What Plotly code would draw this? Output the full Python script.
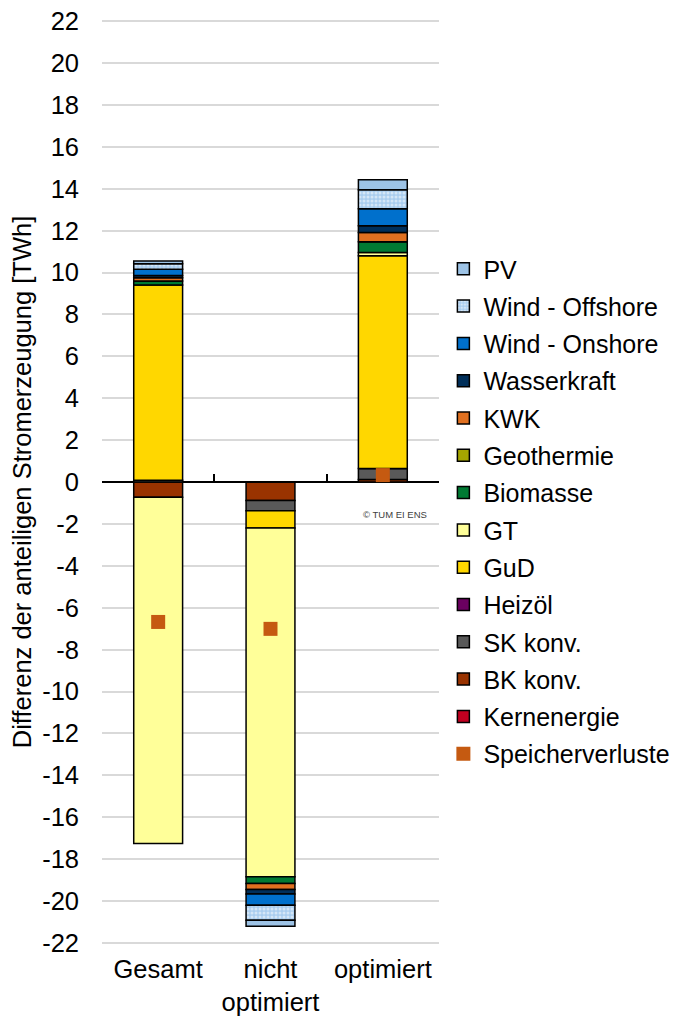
import plotly.graph_objects as go

categories = ["Gesamt", "nicht<br>optimiert", "optimiert"]

# stacked from zero outward (Excel stacking order)
kernenergie = [0.0, 0.0, 0.0]
bk_konv = [-0.73, -0.88, 0.12]
sk_konv = [0.08, -0.49, 0.52]
heizoel = [0.0, 0.0, 0.0]
gud = [9.32, -0.83, 10.16]
gt = [-16.52, -16.64, 0.16]
biomasse = [0.19, -0.32, 0.51]
geothermie = [0.0, 0.0, 0.0]
kwk = [0.16, -0.29, 0.44]
wasserkraft = [0.11, -0.21, 0.32]
wind_onshore = [0.29, -0.54, 0.81]
wind_offshore = [0.27, -0.72, 0.91]
pv = [0.13, -0.29, 0.48]
speicherverluste = [-6.68, -7.01, 0.33]

y_ticks = list(range(-22, 23, 2))
y_tick_labels = [str(v) for v in y_ticks]  # plain hyphen minus as in the original

series = [
    ("Kernenergie", kernenergie, "#C00020", None, 13),
    ("BK konv.", bk_konv, "#993300", None, 12),
    ("SK konv.", sk_konv, "#595959", None, 11),
    ("Heizöl", heizoel, "#6B0060", None, 10),
    ("GuD", gud, "#FFD700", None, 9),
    ("GT", gt, "#FFFF99", None, 8),
    ("Biomasse", biomasse, "#007A33", None, 7),
    ("Geothermie", geothermie, "#A6A600", None, 6),
    ("KWK", kwk, "#E07020", None, 5),
    ("Wasserkraft", wasserkraft, "#002F5A", None, 4),
    ("Wind - Onshore", wind_onshore, "#0070CC", None, 3),
    ("Wind - Offshore", wind_offshore, "#A9CDEF", ".", 2),
    ("PV", pv, "#9DC3E6", None, 1),
]

FONT = "Liberation Sans, Arial, sans-serif"
FS = 25.5
LFS = 25
fig = go.Figure()
for name, vals, color, pat, rank in series:
    marker = dict(color=color, line=dict(color="#000000", width=1.5))
    if pat:
        marker["pattern"] = dict(shape=pat, fillmode="overlay", fgcolor="#FFFFFF",
                                 size=4, solidity=0.45)
    fig.add_trace(go.Bar(x=categories, y=vals, name=name, marker=marker,
                         legendrank=rank, legendgroup=name))

fig.add_trace(go.Scatter(x=categories, y=speicherverluste, name="Speicherverluste",
                         mode="markers",
                         marker=dict(symbol="square", size=14, color="#C55A11"),
                         legendrank=14, legendgroup="Speicherverluste"))

# invisible trace to enable overlay axis for category-boundary ticks
fig.add_trace(go.Scatter(x=[0], y=[0], xaxis="x2", mode="markers",
                         marker=dict(opacity=0), showlegend=False, hoverinfo="skip"))

# page body adds an 8px offset, so the figure is 8px smaller and margins shifted
fig.update_layout(
    width=672, height=1008,
    margin=dict(l=94, r=240.5, t=10.6, b=70.6, autoexpand=False),
    barmode="relative", bargap=0.565,
    plot_bgcolor="white", paper_bgcolor="white",
    font=dict(family=FONT, size=FS, color="#000000"),
    showlegend=True,
    legend=dict(x=1.013, y=0.7548, xanchor="left", yanchor="top",
                traceorder="grouped", tracegroupgap=1.8,
                font=dict(family=FONT, size=LFS, color="#000000"),
                bgcolor="rgba(0,0,0,0)"),
    yaxis=dict(range=[-22.1, 22.1], tickvals=y_ticks, ticktext=y_tick_labels,
               showgrid=True, ticklabeloverflow="allow",
               gridcolor="#D9D9D9", gridwidth=1.5, zeroline=True,
               zerolinecolor="#000000", zerolinewidth=1.5, showline=False,
               ticks="", ticklabelstandoff=22, automargin=False,
               tickfont=dict(family=FONT, size=FS, color="#000000"),
               title=dict(text="Differenz der anteiligen Stromerzeugung [TWh]",
                          font=dict(family=FONT, size=FS, color="#000000"),
                          standoff=6)),
    xaxis=dict(showgrid=False, showline=False, ticks="", zeroline=False,
               ticklabelstandoff=6, automargin=False, ticklabeloverflow="allow",
               tickfont=dict(family=FONT, size=FS, color="#000000")),
    xaxis2=dict(overlaying="x", anchor="free", position=22.1 / 44.2, range=[-0.5, 2.5],
                tickvals=[0.5, 1.5], ticks="inside", ticklen=8, tickwidth=1.5,
                tickcolor="#000000", showticklabels=False, showgrid=False,
                zeroline=False, showline=False),
    annotations=[dict(text="© TUM EI ENS", x=0.868, y=0.465, xref="paper",
                      yref="paper", xanchor="center", yanchor="middle",
                      showarrow=False,
                      font=dict(family=FONT, size=9.5, color="#404040"))],
)

fig.write_html("out.html")
